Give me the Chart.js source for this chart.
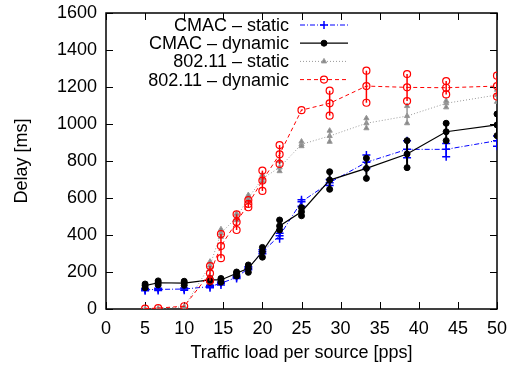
<!DOCTYPE html>
<html><head>
<meta charset="utf-8">
<script src="https://cdn.jsdelivr.net/npm/chart.js@4.4.3/dist/chart.umd.min.js"></script>
<style>
  *{margin:0;padding:0}
  body{background:#fff;width:519px;height:366px;overflow:hidden}
</style>
</head><body>
<canvas id="c" width="519" height="366"></canvas>
<script>
const FONT = { family: "'Liberation Sans', Arial, sans-serif", size: 18 }

// traffic load per source [pps]
const loads = [5, 6.67, 10, 13.3, 14.7, 16.7, 18.2, 20, 22.2, 25, 28.6, 33.3, 38.5, 43.5, 50]
const xTicks = [0, 5, 10, 15, 20, 25, 30, 35, 40, 45, 50]
const yTicks = [0, 200, 400, 600, 800, 1000, 1200, 1400, 1600]

// delay [ms], mean + min/max
const cmacStatic    = [104, 106, 108, 121, 139, 171, 220, 310, 396, 580, 683, 793, 863, 863, 910]
const cmacStaticLo  = [98, 100, 102, 115, 130, 165, 212, 298, 380, 555, 668, 760, 818, 823, 880]
const cmacStaticHi  = [110, 112, 114, 128, 146, 178, 228, 320, 410, 590, 700, 832, 910, 895, 935]

const cmacDynamic   = [126, 142, 140, 157, 157, 193, 220, 310, 449, 526, 697, 760, 838, 958, 995]
const cmacDynamicLo = [115, 130, 128, 145, 145, 178, 198, 280, 427, 504, 647, 706, 764, 910, 937]
const cmacDynamicHi = [135, 152, 150, 165, 165, 200, 238, 333, 481, 548, 742, 815, 910, 1004, 1054]

const wifiStatic    = [0, 3, 12, 235, 410, 495, 600, 705, 765, 890, 935, 1004, 1043, 1112, 1157]
const wifiStaticLo  = [0, 0, 8, 215, 390, 480, 585, 690, 745, 880, 904, 977, 1004, 1090, 1120]
const wifiStaticHi  = [2, 6, 16, 256, 431, 515, 616, 725, 800, 905, 964, 1031, 1097, 1125, 1185]

const wifiDynamic   = [2, 5, 15, 193, 340, 470, 568, 694, 836, 1075, 1112, 1205, 1198, 1196, 1205]
const wifiDynamicLo = [0, 2, 12, 153, 275, 427, 550, 638, 784, 1072, 1045, 1115, 1124, 1160, 1148]
const wifiDynamicHi = [4, 8, 18, 232, 405, 512, 589, 748, 886, 1078, 1180, 1288, 1270, 1232, 1261]

const pts = ys => loads.map((x, i) => ({ x, y: ys[i] }))

const series = [
  { label: 'CMAC \u2013 static', data: pts(cmacStatic), lo: cmacStaticLo, hi: cmacStaticHi,
    borderColor: '#0000ff', backgroundColor: '#0000ff', borderDash: [5, 2, 1, 2], borderWidth: 1,
    pointStyle: 'cross', pointRadius: 4, pointBorderWidth: 1.5, order: 3 },
  { label: 'CMAC \u2013 dynamic', data: pts(cmacDynamic), lo: cmacDynamicLo, hi: cmacDynamicHi,
    borderColor: '#000', backgroundColor: '#000', borderDash: [], borderWidth: 1.2,
    pointStyle: 'circle', pointRadius: 3, pointBorderWidth: 1, order: 2 },
  { label: '802.11 \u2013 static', data: pts(wifiStatic), lo: wifiStaticLo, hi: wifiStaticHi,
    borderColor: '#999', backgroundColor: '#888', borderDash: [1, 2], borderWidth: 1,
    pointStyle: 'triangle', pointRadius: 3, pointBorderWidth: 1, order: 1 },
  { label: '802.11 \u2013 dynamic', data: pts(wifiDynamic), lo: wifiDynamicLo, hi: wifiDynamicHi,
    borderColor: '#ff0000', backgroundColor: 'rgba(0,0,0,0)', borderDash: [4, 3], borderWidth: 1,
    pointStyle: 'circle', pointRadius: 3.5, pointBorderWidth: 1.2, order: 0 },
]

function marker(ctx, ds, x, y) {
  ctx.save()
  ctx.strokeStyle = ds.borderColor
  ctx.fillStyle = ds.backgroundColor
  ctx.lineWidth = ds.pointBorderWidth
  ctx.setLineDash([])
  Chart.helpers.drawPoint(ctx, { pointStyle: ds.pointStyle, radius: ds.pointRadius, borderWidth: ds.pointBorderWidth, rotation: 0 }, x, y)
  ctx.restore()
}

const errorBars = {
  id: 'errorBars',
  afterDatasetDraw(chart, args) {
    const ds = chart.data.datasets[args.index]
    const { ctx, scales: { x, y } } = chart
    ctx.save()
    ctx.beginPath()
    ctx.rect(chart.chartArea.left, chart.chartArea.top, chart.chartArea.width, chart.chartArea.height)
    ctx.clip()
    loads.forEach((v, i) => {
      const px = x.getPixelForValue(v)
      const y1 = y.getPixelForValue(ds.lo[i]), y2 = y.getPixelForValue(ds.hi[i])
      ctx.strokeStyle = ds.borderColor
      ctx.lineWidth = ds.order === 2 ? 2 : 1.5
      ctx.setLineDash([])
      ctx.beginPath(); ctx.moveTo(px, y1); ctx.lineTo(px, y2); ctx.stroke()
      if (Math.abs(y1 - y2) > 2) { marker(ctx, ds, px, y1); marker(ctx, ds, px, y2) }
    })
    ctx.restore()
  }
}

const frame = {
  id: 'frame',
  beforeDatasetsDraw(chart) {
    const { ctx, chartArea: a, scales: { x, y } } = chart
    ctx.save()
    ctx.strokeStyle = '#000'
    ctx.lineWidth = 1
    ctx.beginPath()
    xTicks.forEach(v => {
      const p = Math.round(x.getPixelForValue(v)) + 0.5
      ctx.moveTo(p, a.bottom); ctx.lineTo(p, a.bottom - 7)
      ctx.moveTo(p, a.top); ctx.lineTo(p, a.top + 7)
    })
    yTicks.forEach(v => {
      const p = Math.round(y.getPixelForValue(v)) + 0.5
      ctx.moveTo(a.left, p); ctx.lineTo(a.left + 7, p)
      ctx.moveTo(a.right, p); ctx.lineTo(a.right - 7, p)
    })
    ctx.stroke()
    ctx.lineWidth = 1.5
    ctx.strokeRect(a.left, a.top, a.width, a.height)
    ctx.restore()
  }
}

const keyBox = {
  id: 'keyBox',
  afterDraw(chart) {
    const ctx = chart.ctx
    ctx.save()
    ctx.font = `${FONT.size}px ${FONT.family}`
    ctx.fillStyle = '#000'
    ctx.textAlign = 'right'
    ctx.textBaseline = 'middle'
    chart.data.datasets.forEach((ds, i) => {
      const ty = 25 + i * 18.2
      ctx.fillText(ds.label, 289, ty + 1)
      ctx.strokeStyle = ds.borderColor
      ctx.lineWidth = ds.borderWidth
      ctx.setLineDash(ds.borderDash)
      ctx.beginPath(); ctx.moveTo(300, ty); ctx.lineTo(348, ty); ctx.stroke()
      marker(ctx, ds, 324, ty)
    })
    ctx.restore()
  }
}

new Chart(document.getElementById('c'), {
  type: 'line',
  data: { datasets: series.map(s => Object.assign({ fill: false, tension: 0, pointBackgroundColor: s.backgroundColor }, s)) },
  options: {
    responsive: false,
    animation: false,
    layout: { padding: { top: 13, right: 22, left: 0, bottom: 0 } },
    plugins: { legend: { display: false }, tooltip: { enabled: false } },
    scales: {
      x: {
        type: 'linear', min: 0, max: 50,
        afterBuildTicks: s => { s.ticks = xTicks.map(v => ({ value: v })) },
        afterFit: s => { s.height = 57; s.paddingLeft = 0; s.paddingRight = 0 },
        grid: { display: false, drawTicks: false },
        border: { display: false },
        ticks: { font: FONT, color: '#000', padding: 9, maxRotation: 0, callback: v => String(v) },
        title: { display: true, text: 'Traffic load per source [pps]', font: FONT, color: '#000', padding: { top: 0, bottom: 2 } }
      },
      y: {
        min: 0, max: 1600,
        afterBuildTicks: s => { s.ticks = yTicks.map(v => ({ value: v })) },
        afterFit: s => { s.width = 106; s.paddingTop = 0; s.paddingBottom = 0 },
        grid: { display: false, drawTicks: false },
        border: { display: false },
        ticks: { font: FONT, color: '#000', padding: 9, callback: v => String(v) },
        title: { display: true, text: 'Delay [ms]', font: FONT, color: '#000', padding: { top: 11, bottom: 0 } }
      }
    }
  },
  plugins: [frame, errorBars, keyBox]
})
</script>
</body></html>
